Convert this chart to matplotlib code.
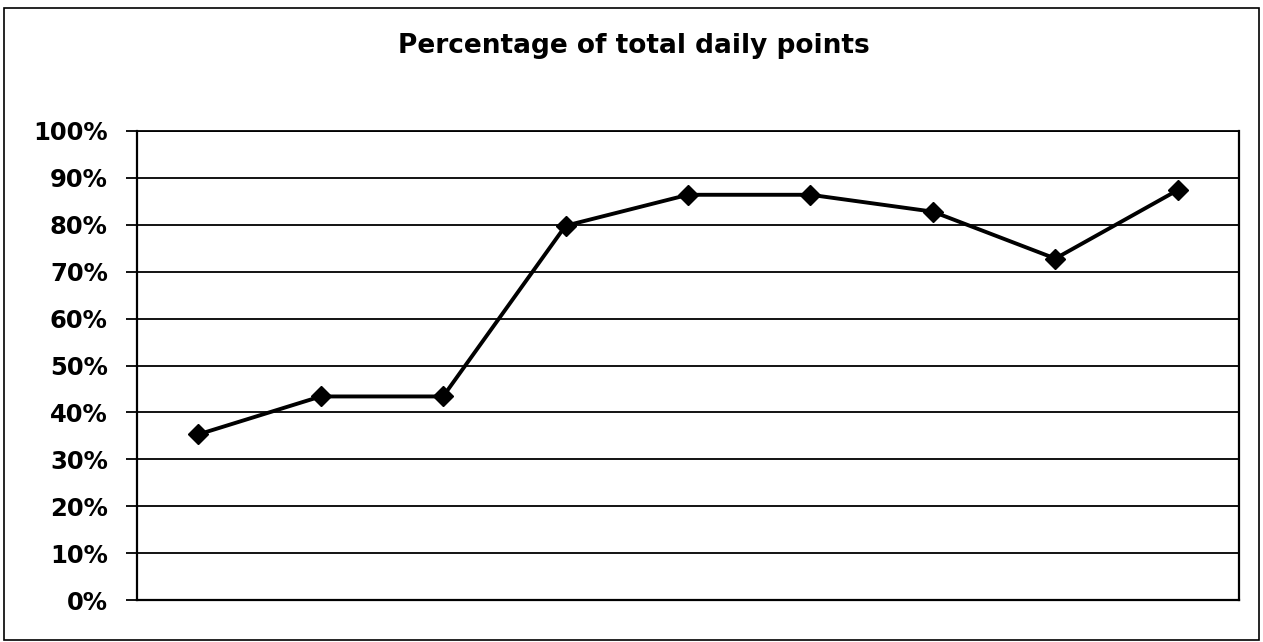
import matplotlib
matplotlib.use("Agg")
import matplotlib.pyplot as plt
from matplotlib.patches import Rectangle
from matplotlib.ticker import FuncFormatter

plt.rcParams["font.family"] = ["DejaVu Sans"]

# data (fraction of total daily points)
days = list(range(1, 10))
pct = [35.3, 43.4, 43.4, 79.8, 86.4, 86.4, 82.8, 72.8, 87.4]
y_ticks = list(range(0, 101, 10))

fig = plt.figure(figsize=(12.63, 6.42), dpi=100)
ax = fig.add_axes([137 / 1263, 1 - 600 / 642, (1239 - 137) / 1263, (600 - 131) / 642])

x = list(range(len(days)))
ax.plot(x, pct, color="black", lw=2.8, marker="D", ms=10.5, zorder=3)

ax.set_xlim(-0.5, len(days) - 0.5)
ax.set_ylim(0, 100)
ax.set_yticks(y_ticks)
ax.yaxis.set_major_formatter(FuncFormatter(lambda v, _: f"{v:.0f}%"))
ax.set_xticks([])
ax.grid(axis="y", color="black", lw=1.3)
ax.set_axisbelow(True)
ax.tick_params(axis="y", length=8, width=1.3, pad=13, labelsize=17.5)
for lab in ax.get_yticklabels():
    lab.set_fontweight("bold")

for side in ("left", "right", "bottom"):
    ax.spines[side].set_linewidth(1.6)
ax.spines["top"].set_linewidth(1.3)

fig.text(634 / 1263, 1 - 53 / 642, "Percentage of total daily points",
         ha="center", va="baseline", fontsize=19, fontweight="bold")

# outer chart frame
fig.patches.append(Rectangle((4 / 1263, 1 - 640 / 642), 1255 / 1263, 632 / 642,
                             transform=fig.transFigure, fill=False,
                             edgecolor="black", lw=1.2))

fig.savefig("out.png", dpi=100)
